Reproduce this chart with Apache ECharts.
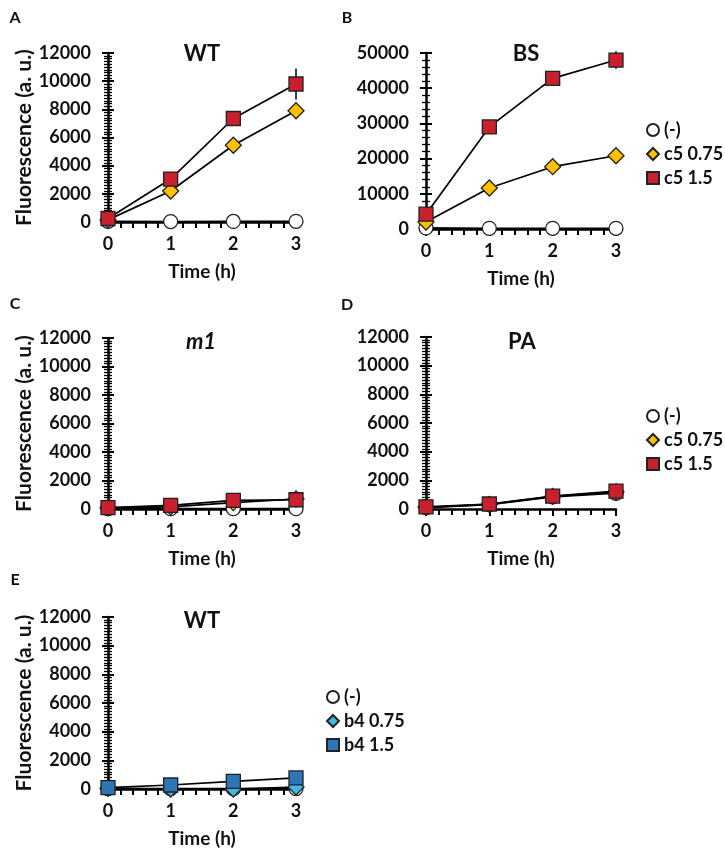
<!DOCTYPE html>
<html>
<head>
<meta charset="utf-8">
<script src="https://cdn.jsdelivr.net/npm/echarts@6/dist/echarts.min.js"></script>
<style>
html,body{margin:0;padding:0;background:#fff;}
#chart{width:725px;height:854px;}
</style>
</head>
<body>
<div id="chart"></div>
<script>
// ---- data ----
const timePoints = [0, 1, 2, 3];
const xTickLabels = ['0', '1', '2', '3'];

const A_none   = [50, 30, 40, 50];
const A_c5_075 = [150, 2200, 5450, 7900];
const A_c5_15  = [250, 3050, 7350, 9800];
const A_err15  = [0, 0, 0, 1100];

const B_none   = [300, 200, 200, 200];
const B_c5_075 = [2000, 11650, 17700, 20800];
const B_c5_15  = [4200, 29000, 42800, 48000];
const B_err15  = [0, 0, 0, 2500];

const C_none   = [20, 20, 20, 20];
const C_c5_075 = [80, 150, 450, 700];
const C_c5_15  = [100, 250, 600, 650];
const C_err15  = [0, 0, 0, 250];

const D_none   = [100, 300, 850, 1100];
const D_c5_075 = [120, 320, 880, 1200];
const D_c5_15  = [150, 350, 900, 1250];
const D_err15  = [0, 0, 0, 200];

const E_none   = [20, 20, 20, 30];
const E_b4_075 = [40, 0, 0, 140];
const E_b4_15  = [100, 280, 530, 770];

const panelLetters = ['A', 'B', 'C', 'D', 'E'];
const panelTitles = ['WT', 'BS', 'm1', 'PA', 'WT'];
const legendC5 = ['(-)', 'c5 0.75', 'c5 1.5'];
const legendB4 = ['(-)', 'b4 0.75', 'b4 1.5'];

// ---- styles ----
const FONT = 'Lato';
const COL_Y = '#FFC000';
const COL_R = '#C8202C';
const COL_B = '#2E75B6';
const COL_LB = '#3DB8E8';

const grids = [
  {left: 108, top: 53, width: 188, height: 169},
  {left: 426, top: 53, width: 190, height: 176},
  {left: 108, top: 338, width: 188, height: 171},
  {left: 426, top: 337, width: 190, height: 172},
  {left: 108, top: 617, width: 188, height: 172}
];
const yMax = [12000, 50000, 12000, 12000, 12000];
const yInt = [2000, 10000, 2000, 2000, 2000];
const yMinor = [10, 5, 10, 10, 10];
const yNamed = [true, false, true, false, true];

const xAxes = [], yAxes = [], series = [];
grids.forEach((g, i) => {
  xAxes.push({
    type: 'value', gridIndex: i, min: 0, max: 3, interval: 1,
    name: 'Time (h)', nameLocation: 'middle', nameGap: 40,
    nameTextStyle: {fontFamily: FONT, fontWeight: 'bold', fontSize: 19, color: '#111'},
    axisLine: {show: true, onZero: false, lineStyle: {color: '#000', width: 2.5}},
    axisTick: {show: true, length: 7, lineStyle: {color: '#000', width: 2}},
    minorTick: {show: true, splitNumber: 5, length: 6, lineStyle: {color: '#000', width: 2}},
    splitLine: {show: false},
    minorSplitLine: {show: false},
    axisLabel: {fontFamily: FONT, fontWeight: 'bold', fontSize: 18, color: '#111', margin: 13,
      formatter: v => xTickLabels[timePoints.indexOf(v)]}
  });
  yAxes.push({
    type: 'value', gridIndex: i, min: 0, max: yMax[i], interval: yInt[i],
    name: yNamed[i] ? 'Fluorescence (a. u.)' : '', nameLocation: 'middle', nameGap: 65,
    nameTextStyle: {fontFamily: FONT, fontWeight: 'bold', fontSize: 21, color: '#111'},
    axisLine: {show: true, lineStyle: {color: '#000', width: 2.5}},
    axisTick: {show: true, length: 6, lineStyle: {color: '#000', width: 2}},
    minorTick: {show: true, splitNumber: yMinor[i], length: 4, lineStyle: {color: '#000', width: 1.3}},
    splitLine: {show: false},
    minorSplitLine: {show: false},
    axisLabel: {fontFamily: FONT, fontWeight: 'bold', fontSize: 18, color: '#111', margin: 17,
      formatter: v => String(v)}
  });
  yAxes.push({
    type: 'value', gridIndex: i, min: 0, max: yMax[i], interval: yInt[i], position: 'left',
    axisLine: {show: false},
    axisTick: {show: true, inside: true, length: 6, lineStyle: {color: '#000', width: 2}},
    minorTick: {show: true, splitNumber: yMinor[i], length: 4, lineStyle: {color: '#000', width: 1.3}},
    splitLine: {show: false},
    minorSplitLine: {show: false},
    axisLabel: {show: false}
  });
});

function pts(arr) { return timePoints.map((t, k) => [t, arr[k]]); }

function lineSeries(name, arr, gi, symbol, size, color, z) {
  return {
    type: 'line', name: name, xAxisIndex: gi, yAxisIndex: gi * 2,
    data: pts(arr), symbol: symbol, symbolSize: size, showSymbol: true,
    lineStyle: {color: '#000', width: 1.7},
    itemStyle: {color: color, borderColor: '#222', borderWidth: 1.3},
    z: z, animation: false
  };
}
function errSeries(vals, errs, gi) {
  return {
    type: 'custom', xAxisIndex: gi, yAxisIndex: gi * 2, z: 1, silent: true, animation: false,
    data: timePoints.map((t, k) => [t, vals[k], errs[k]]).filter(d => d[2] > 0),
    renderItem: function (params, api) {
      const x = api.value(0), v = api.value(1), e = api.value(2);
      const p1 = api.coord([x, v + e]);
      const p2 = api.coord([x, v - e]);
      return {type: 'line', shape: {x1: p1[0], y1: p1[1], x2: p2[0], y2: p2[1]},
        style: {stroke: '#000', lineWidth: 1.5}};
    }
  };
}

const c5Sets = [[A_none, A_c5_075, A_c5_15, A_err15], [B_none, B_c5_075, B_c5_15, B_err15],
                [C_none, C_c5_075, C_c5_15, C_err15], [D_none, D_c5_075, D_c5_15, D_err15]];
c5Sets.forEach((s, gi) => {
  series.push(errSeries(s[2], s[3], gi));
  series.push(lineSeries(legendC5[0], s[0], gi, 'circle', 14, '#fff', 3));
  series.push(lineSeries(legendC5[1], s[1], gi, 'diamond', 16, COL_Y, 4));
  series.push(lineSeries(legendC5[2], s[2], gi, 'rect', 14, COL_R, 5));
});
series.push(lineSeries(legendB4[0], E_none, 4, 'circle', 14, '#fff', 3));
series.push(lineSeries(legendB4[1], E_b4_075, 4, 'diamond', 16, COL_LB, 4));
series.push(lineSeries(legendB4[2], E_b4_15, 4, 'rect', 14, COL_B, 5));

const icons = ['circle', 'diamond', 'rect'];
function legend(names, left, top) {
  return {
    orient: 'vertical', left: left, top: top, itemWidth: 12, itemHeight: 12, itemGap: 6,
    selectedMode: false,
    data: names.map((n, k) => ({name: n, icon: icons[k]})),
    textStyle: {fontFamily: FONT, fontWeight: 'bold', fontSize: 18, color: '#111', lineHeight: 17}
  };
}

const letterPos = [[15, 18], [347, 18], [15, 304], [347, 305], [15, 580]];
const titlePos = [[202, 54], [526, 54], [201, 342], [522, 342], [202, 621]];
const graphics = [];
panelLetters.forEach((t, i) => graphics.push({
  type: 'text', x: letterPos[i][0], y: letterPos[i][1],
  style: {text: t, fontFamily: FONT, fontWeight: 'bold', fontSize: 16, fill: '#111', align: 'center', verticalAlign: 'middle'}
}));
panelTitles.forEach((t, i) => graphics.push({
  type: 'text', x: titlePos[i][0], y: titlePos[i][1],
  style: {text: t, fontFamily: FONT, fontWeight: 'bold', fontStyle: i === 2 ? 'italic' : 'normal', fontSize: 22, fill: '#111', align: 'center', verticalAlign: 'middle'}
}));

const chart = echarts.init(document.getElementById('chart'), null, {renderer: 'canvas'});
chart.setOption({
  backgroundColor: '#fff',
  animation: false,
  grid: grids,
  xAxis: xAxes,
  yAxis: yAxes,
  legend: [legend(legendC5, 641, 116), legend(legendC5, 641, 402), legend(legendB4, 321, 683)],
  graphic: graphics,
  series: series
});
</script>
</body>
</html>
